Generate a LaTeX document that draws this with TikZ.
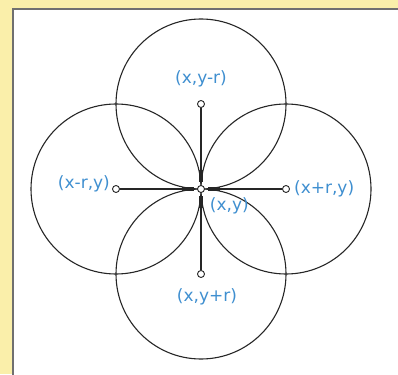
\documentclass[tikz,border=0pt]{standalone}
\usepackage{fontspec}
\setsansfont{DejaVu Sans}
\usepackage{xcolor}
\definecolor{paper}{HTML}{FAEFAA}
\definecolor{frame}{HTML}{707070}
\definecolor{blue1}{HTML}{3F8FD0}
\definecolor{ink}{HTML}{262626}
\usepackage{tikz}
\usetikzlibrary{arrows.meta,positioning}
\tikzset{
  pt/.style    = {circle, draw=ink, fill=white, line width=0.9pt,
                  inner sep=0pt, minimum size=7pt},
  lbl/.style   = {text=blue1, inner sep=0pt,
                  font=\sffamily\fontsize{17}{17}\selectfont},
  ring/.style  = {draw=ink, line width=1.1pt},
  spoke/.style = {{Rectangle[length=12pt,width=4pt,sep=3pt]}-, draw=ink,
                  line width=1.2pt}
}

\begin{document}
\begin{tikzpicture}[x=1pt, y=-1pt, node distance=4pt]
  \useasboundingbox (0,0) rectangle (398,374);
  \fill[paper] (0,0) rectangle (398,374);
  \draw[frame, fill=white, line width=1.2pt] (13,9) rectangle (404,380);
  % centres of the four circles
  \coordinate (pc) at (201,189);
  \coordinate (pt) at (201,104);
  \coordinate (pl) at (116,189);
  \coordinate (pr) at (286,189);
  \coordinate (pb) at (201,274);
  \foreach \p in {pt,pl,pr,pb}
    \draw[ring] (\p) circle[radius=85];
  \node[pt] (c) at (pc) {};
  \node[pt] (t) at (pt) {};
  \node[pt] (l) at (pl) {};
  \node[pt] (r) at (pr) {};
  \node[pt] (b) at (pb) {};
  \foreach \a in {t,l,r,b}
    \draw[spoke] (c) -- (\a);
  \node[lbl, above=13pt of t] (tl) {(x,y-r)};
  \node[lbl, left=2pt of l, yshift=5pt] (ll) {(x-r,y)};
  \node[lbl, right=4pt of r] (rl) {(x+r,y)};
  \node[lbl, below=10pt of b, xshift=6pt] (bl) {(x,y+r)};
  \node[lbl, below right=6pt and 6pt of c] (cl) {(x,y)};
\end{tikzpicture}
\end{document}
